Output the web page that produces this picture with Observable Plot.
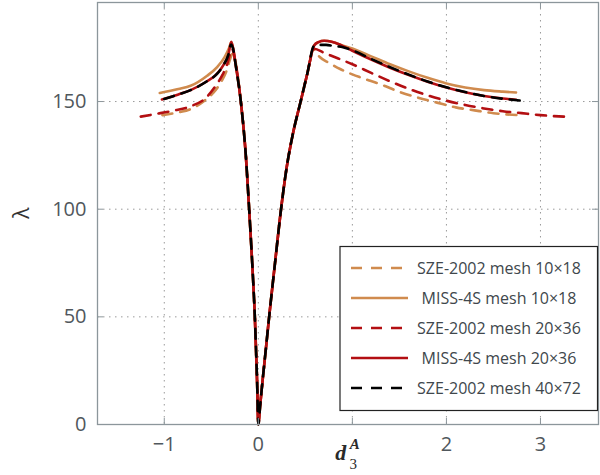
<!DOCTYPE html>
<html>
<head>
<meta charset="utf-8">
<script src="https://cdn.jsdelivr.net/npm/d3@7"></script>
<script src="https://cdn.jsdelivr.net/npm/@observablehq/plot@0.6"></script>
<style>
  html, body { margin: 0; padding: 0; background: #fff; }
  #chart { width: 600px; height: 475px; }
</style>
</head>
<body>
<div id="chart"></div>
<script>
// ---- data ----
const xTicks = [-1, 0, 1, 2, 3];
const xTickLabels = [-1, 0, 2, 3];
const yTicks = [0, 50, 100, 150];
const yGrid = [50, 100, 150];

const seriesNames = [
  "SZE-2002 mesh 10\u00d718",
  "MISS-4S mesh 10\u00d718",
  "SZE-2002 mesh 20\u00d736",
  "MISS-4S mesh 20\u00d736",
  "SZE-2002 mesh 40\u00d772"
];

const sze10 = [[-1.02,143.7],[-0.85,145],[-0.72,146.5],[-0.576,150.3],[-0.48,154],[-0.4,158.8],[-0.34,164],[-0.29,171],[-0.275,172.6],[-0.25,169.8],
  [-0.186,150],[-0.133,125],[-0.097,99.7],[-0.065,75],[-0.037,50],[-0.0125,19],[0,0],[0.02,9],[0.042,19],[0.08,35],[0.115,50],[0.175,74],[0.236,98],[0.3,119],[0.37,135.5],[0.45,150],[0.52,162.8],
  [0.587,174.3],[0.65,170.8],[0.75,168],[0.87,165.1],[1.0,162.6],[1.1,161],[1.3,158],[1.5,154.5],[1.7,151.8],[1.9,149.5],[2.1,147.3],[2.3,145.9],[2.5,144.6],[2.77,143.7]];

const miss10 = [[-1.048,154],[-0.85,155.8],[-0.72,157.3],[-0.544,162],[-0.438,166],[-0.36,170.5],[-0.31,175],[-0.287,177.5],[-0.257,172],[-0.25,169.8],
  [-0.186,150],[-0.133,125],[-0.097,99.7],[-0.065,75],[-0.037,50],[-0.0125,19],[0,0],[0.02,9],[0.042,19],[0.08,35],[0.115,50],[0.175,74],[0.236,98],[0.3,119],[0.37,135.5],[0.45,150],[0.52,162.8],
  [0.593,176],[0.64,177.6],[0.7,178.2],[0.78,177.8],[0.88,176.3],[1.0,174.6],[1.2,171],[1.4,167.3],[1.6,164],[1.8,161],[2.0,158.4],[2.2,156.5],[2.4,155.3],[2.6,154.6],[2.74,154.2]];

const sze20 = [[-1.25,143],[-1.08,144.3],[-0.9,145.8],[-0.72,147.8],[-0.55,152],[-0.45,157.5],[-0.38,162.5],[-0.33,167.5],[-0.28,174.5],[-0.25,169.8],
  [-0.186,150],[-0.133,125],[-0.097,99.7],[-0.065,75],[-0.037,50],[-0.0125,19],[0,0],[0.02,9],[0.042,19],[0.08,35],[0.115,50],[0.175,74],[0.236,98],[0.3,119],[0.37,135.5],[0.45,150],[0.52,162.8],
  [0.593,174.5],[0.7,172.6],[0.85,170],[1.0,167.3],[1.2,163.3],[1.4,159.4],[1.6,155.9],[1.8,152.9],[2.0,150.4],[2.2,148.4],[2.4,146.8],[2.6,145.5],[2.8,144.6],[3.0,143.7],[3.29,142.9]];

const miss20 = [[-1.025,151],[-0.85,153.3],[-0.72,155.3],[-0.55,159.3],[-0.44,162.8],[-0.37,167],[-0.32,171.5],[-0.287,177.7],[-0.257,172],[-0.25,169.8],
  [-0.186,150],[-0.133,125],[-0.097,99.7],[-0.065,75],[-0.037,50],[-0.0125,19],[0,0],[0.02,9],[0.042,19],[0.08,35],[0.115,50],[0.175,74],[0.236,98],[0.3,119],[0.37,135.5],[0.45,150],[0.52,162.8],
  [0.593,176],[0.64,177.6],[0.7,178.2],[0.78,177.8],[0.88,176.2],[1.0,173.6],[1.2,169.5],[1.4,165.7],[1.6,162.3],[1.8,159.2],[2.0,156.5],[2.2,154.3],[2.4,152.6],[2.6,151.4],[2.74,150.8]];

const sze40 = [[-1.0,151.2],[-0.85,153.3],[-0.72,155.3],[-0.55,159.3],[-0.44,162.8],[-0.37,167],[-0.32,171.5],[-0.29,176.5],[-0.257,172],[-0.25,169.8],
  [-0.186,150],[-0.133,125],[-0.097,99.7],[-0.065,75],[-0.037,50],[-0.0125,19],[0,0],[0.02,9],[0.042,19],[0.08,35],[0.115,50],[0.175,74],[0.236,98],[0.3,119],[0.37,135.5],[0.45,150],[0.52,162.8],
  [0.593,175.9],[0.65,176.3],[0.72,176.3],[0.8,175.8],[0.9,175.2],[1.0,173.8],[1.2,169.8],[1.4,166],[1.6,162.5],[1.8,159.3],[2.0,156.6],[2.2,154.4],[2.4,152.6],[2.6,151.3],[2.82,150.3]];

// ---- styles ----
const TAN = "#d08b4e";
const RED = "#b30f12";
const BLK = "#000000";
const DASH = "10,8";
const series = [
  {data: sze10,  color: TAN, dash: DASH, name: seriesNames[0]},
  {data: miss10, color: TAN, dash: null, name: seriesNames[1]},
  {data: sze20,  color: RED, dash: DASH, name: seriesNames[2]},
  {data: miss20, color: RED, dash: null, name: seriesNames[3]},
  {data: sze40,  color: BLK, dash: DASH, name: seriesNames[4]}
];

const AXIS = "#8c969b";
const GRID = "#9a9a9a";
const fmt = d => d < 0 ? "\u2212" + Math.abs(d) : String(d);

const plot = Plot.plot({
  width: 600,
  height: 475,
  marginLeft: 97,
  marginRight: 2,
  marginTop: 2,
  marginBottom: 51,
  x: {domain: [-1.71, 3.617]},
  y: {domain: [0, 196]},
  style: {fontFamily: "'Open Sans', sans-serif", fontSize: "20px", color: "#50575c", background: "#fff"},
  marks: [
    Plot.ruleX(xTicks, {stroke: GRID, strokeDasharray: "1.5,4.5", strokeWidth: 1}),
    Plot.ruleY(yGrid, {stroke: GRID, strokeDasharray: "1.5,4.5", strokeWidth: 1}),
    ...series.map(s => Plot.line(s.data, {
      x: d => d[0], y: d => d[1],
      stroke: s.color, strokeWidth: 2.6,
      strokeDasharray: s.dash, curve: "monotone-x"
    })),
    Plot.frame({stroke: AXIS, strokeWidth: 1.3}),
    Plot.ruleX(xTicks, {insetTop: 416, stroke: AXIS, strokeWidth: 1}),
    Plot.ruleX(xTicks, {insetBottom: 416, stroke: AXIS, strokeWidth: 1}),
    Plot.ruleY(yTicks.filter(v => v > 0), {insetRight: 495, stroke: AXIS, strokeWidth: 1}),
    Plot.ruleY(yTicks.filter(v => v > 0), {insetLeft: 495, stroke: AXIS, strokeWidth: 1}),
    Plot.axisX({ticks: xTickLabels, tickFormat: fmt, tickSize: 0, tickPadding: 12, label: null, fontSize: 20}),
    Plot.axisY({ticks: yTicks, tickFormat: fmt, tickSize: 0, tickPadding: 11, label: null, fontSize: 20})
  ]
});

document.getElementById("chart").appendChild(plot);

// ---- axis labels and legend ----
const svg = d3.select(plot);
const xs = plot.scale("x");
const ys = plot.scale("y");

// y label (lambda), rotated
svg.append("text")
  .attr("transform", `translate(21,${ys.apply(98)}) rotate(-90)`)
  .attr("text-anchor", "middle")
  .attr("dominant-baseline", "central")
  .attr("font-family", "'Open Sans', sans-serif")
  .attr("font-size", 21)
  .attr("fill", "#333")
  .text("\u03bb");

// x label d_3^A at the position of x = 1
const lx = xs.apply(1);
const xl = svg.append("g").attr("fill", "#2a2a2a").attr("font-family", "'Liberation Serif', serif");
xl.append("text").attr("x", lx - 11).attr("y", 460)
  .attr("font-size", 22).attr("font-style", "italic").attr("font-weight", "bold").text("d");
xl.append("text").attr("x", lx + 3).attr("y", 449)
  .attr("font-size", 15).attr("font-style", "italic").attr("font-weight", "bold").text("A");
xl.append("text").attr("x", lx + 1.5).attr("y", 469)
  .attr("font-size", 15).text("3");

// legend
const lg = svg.append("g");
lg.append("rect").attr("x", 340).attr("y", 246.5).attr("width", 257.5).attr("height", 164)
  .attr("fill", "#fff").attr("stroke", "#222").attr("stroke-width", 1.2);
series.forEach((s, i) => {
  const cy = 268 + 30 * i;
  lg.append("line").attr("x1", 351).attr("x2", 408).attr("y1", cy).attr("y2", cy)
    .attr("stroke", s.color).attr("stroke-width", 2.6)
    .attr("stroke-dasharray", s.dash ? "11,9" : null);
  lg.append("text").attr("x", 499).attr("y", cy)
    .attr("text-anchor", "middle").attr("dominant-baseline", "central")
    .attr("font-family", "'Open Sans', sans-serif").attr("font-size", 16)
    .attr("fill", "#40474c").text(s.name);
});
</script>
</body>
</html>
